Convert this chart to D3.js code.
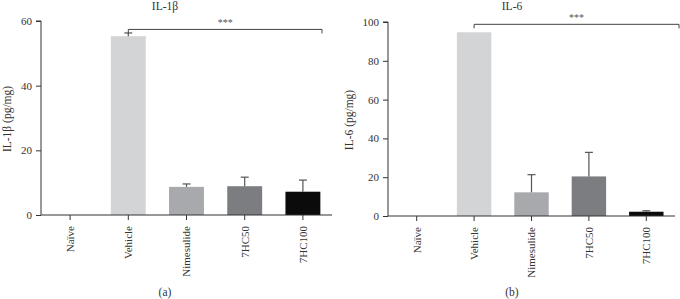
<!DOCTYPE html>
<html>
<head>
<meta charset="utf-8">
<script src="https://cdn.jsdelivr.net/npm/d3@7"></script>
<style>
  body { margin: 0; background: #fff; }
  svg { display: block; font-family: "Liberation Serif", "DejaVu Serif", serif; }
  .axis path, .axis line { stroke: #333; }
  .axis text { fill: #333; font-size: 11px; font-family: "Liberation Serif", serif; }
</style>
</head>
<body>
<div id="chart"></div>
<script>
// groups shared by both panels
const groups = ['Naïve', 'Vehicle', 'Nimesulide', '7HC50', '7HC100'];
const barColors = ['#ffffff', '#d3d4d6', '#a8a9ac', '#7c7d80', '#0b0b0b'];

// panel (a) IL-1β
const il1bMean = [0, 55.3, 8.7, 8.9, 7.2];
const il1bErr = [0, 1.0, 0.9, 2.8, 3.6];
const il1bTicks = [0, 20, 40, 60];

// panel (b) IL-6
const il6Mean = [0, 94.7, 12.2, 20.4, 2.2];
const il6Err = [0, 0, 9.1, 12.4, 0.5];
const il6Ticks = [0, 20, 40, 60, 80, 100];

const W = 680, H = 299;
const svg = d3.select('#chart').append('svg').attr('width', W).attr('height', H);

function panel(opt) {
  const g = svg.append('g');
  const x = d3.scaleBand().domain(groups).range([opt.x0, opt.x1]).paddingInner(0.4).paddingOuter(0.2);
  const y = d3.scaleLinear().domain([0, opt.max]).range([opt.y0, opt.y1]);

  // bars
  g.selectAll('rect.bar').data(groups).enter().append('rect')
    .attr('class', 'bar')
    .attr('x', d => x(d))
    .attr('width', x.bandwidth())
    .attr('y', (d, i) => y(opt.mean[i]))
    .attr('height', (d, i) => y(0) - y(opt.mean[i]))
    .attr('fill', (d, i) => barColors[i]);

  // error bars (upper only)
  const eb = g.selectAll('g.err').data(groups.filter((d, i) => opt.err[i] > 0)).enter().append('g');
  const top = d => y(opt.mean[groups.indexOf(d)] + opt.err[groups.indexOf(d)]);
  const cx = d => x(d) + x.bandwidth() / 2;
  eb.append('line')
    .attr('x1', cx).attr('x2', cx)
    .attr('y1', d => y(opt.mean[groups.indexOf(d)]))
    .attr('y2', top)
    .attr('stroke', '#555').attr('stroke-width', 1.2);
  eb.append('line')
    .attr('x1', d => cx(d) - 4).attr('x2', d => cx(d) + 4)
    .attr('y1', top).attr('y2', top)
    .attr('stroke', '#555').attr('stroke-width', 1.2);

  // y axis
  g.append('g').attr('class', 'axis')
    .attr('transform', `translate(${opt.x0},0)`)
    .call(d3.axisLeft(y).tickValues(opt.ticks).tickSize(5).tickPadding(4))
    .call(a => a.select('.domain').attr('d', `M-5,${y(opt.max)}H0V${y(0)}`));

  // x axis
  const xa = g.append('g').attr('class', 'axis')
    .attr('transform', `translate(0,${opt.y0})`)
    .call(d3.axisBottom(x).tickSize(5).tickSizeOuter(0));
  xa.select('.domain').attr('d', `M${opt.x0},0H${opt.x1}`);
  xa.selectAll('.tick text')
    .attr('transform', 'rotate(-90)')
    .attr('text-anchor', 'end')
    .attr('x', -11).attr('y', 0).attr('dy', '0.35em');

  // y label
  svg.append('text')
    .attr('transform', `translate(${opt.labX},${opt.labY}) rotate(-90)`)
    .attr('text-anchor', 'middle').attr('font-size', 11.5).attr('fill', '#333')
    .text(opt.ylabel);

  // title
  svg.append('text').attr('x', opt.titleX).attr('y', 10)
    .attr('text-anchor', 'middle').attr('font-size', 11.5).attr('fill', '#333')
    .text(opt.title);

  // significance bracket from Vehicle to last group
  const bx1 = x('Vehicle') + x.bandwidth() / 2;
  const bx2 = opt.brEnd;
  const by = y(opt.brY);
  g.append('path')
    .attr('d', `M${bx1},${by + 4}V${by}H${bx2}V${by + 4}`)
    .attr('fill', 'none').attr('stroke', '#444').attr('stroke-width', 1);
  g.append('text').attr('x', (bx1 + bx2) / 2).attr('y', by - 3)
    .attr('text-anchor', 'middle').attr('font-size', 10).attr('fill', '#555')
    .text('***');

  // panel letter
  svg.append('text').attr('x', opt.titleX).attr('y', 296)
    .attr('text-anchor', 'middle').attr('font-size', 11.5).attr('fill', '#333')
    .text(opt.letter);
}

panel({
  x0: 41, x1: 332, y0: 215, y1: 21, max: 60,
  mean: il1bMean, err: il1bErr, ticks: il1bTicks,
  ylabel: 'IL-1β (pg/mg)', title: 'IL-1β', titleX: 165,
  labX: 11, labY: 119, brY: 57.4, brEnd: 322, letter: '(a)'
});

panel({
  x0: 388, x1: 675, y0: 216, y1: 22, max: 100,
  mean: il6Mean, err: il6Err, ticks: il6Ticks,
  ylabel: 'IL-6 (pg/mg)', title: 'IL-6', titleX: 512,
  labX: 353, labY: 120, brY: 98.8, brEnd: 679, letter: '(b)'
});
</script>
</body>
</html>
